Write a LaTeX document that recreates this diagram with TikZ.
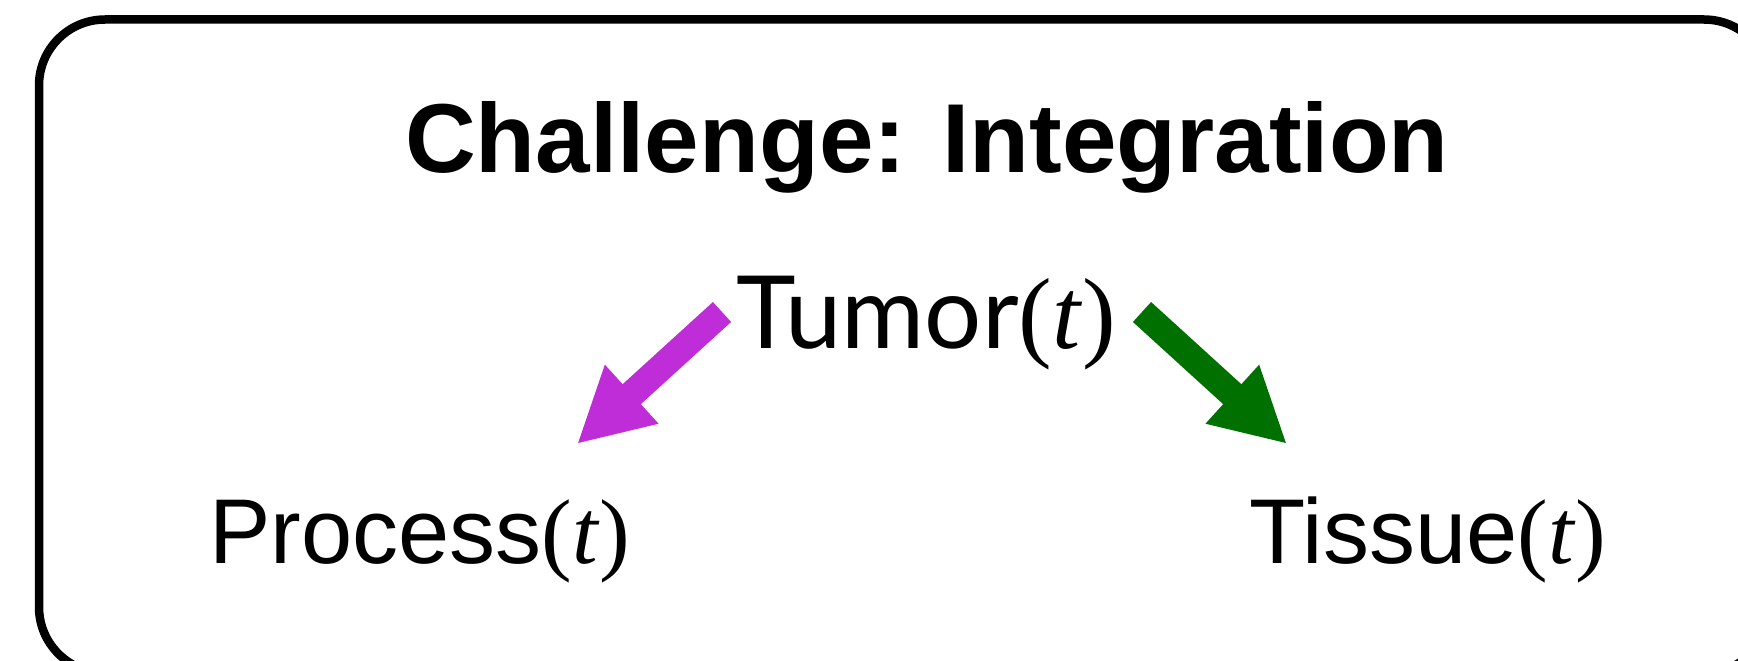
\documentclass[tikz,border=0pt]{standalone}
\usepackage{fontspec}
\setmainfont{Liberation Sans}
\newfontfamily\serifpart{Liberation Serif}
\newfontfamily\humanist{Lato}
\usetikzlibrary{arrows.meta}
\definecolor{procmag}{RGB}{190,45,215}
\definecolor{tissgreen}{RGB}{0,112,0}
\newcommand{\argt}{{\serifpart(\textit{t})}}
\tikzset{
  frame/.style={draw=black, line width=8.5pt, rounded corners=66pt},
  label/.style={anchor=base, inner sep=0pt, font=\fontsize{92}{100}\selectfont},
  biglabel/.style={anchor=base, inner sep=0pt, font=\fontsize{101}{110}\selectfont},
  title/.style={anchor=base, inner sep=0pt, font=\fontsize{98}{110}\selectfont\bfseries},
  fatarrow/.style={line width=27pt, -{Triangle[length=74pt,width=74pt]}}
}
\begin{document}
\begin{tikzpicture}[x=1pt, y=-1pt]
  \useasboundingbox (0,0) rectangle (1738,661);
  \clip (0,0) rectangle (1738,661);
  % outer rounded frame, running past the right and bottom edges
  \draw[frame] (39,19.5) rectangle (1770,673);
  % texts
  \node[title] (head) at (927,172) {Challenge: Integration};
  \node[biglabel] (tumor) at (926,348) {{\humanist Tumor}\argt};
  \node[label] (process) at (420,563) {Process\argt};
  \node[label] (tissue) at (1428,563) {Tissue\argt};
  % arrow ends
  \coordinate (pstart) at (722,312);
  \coordinate (pend) at (577,444);
  \coordinate (tstart) at (1142,312);
  \coordinate (tend) at (1287,444);
  \draw[fatarrow, procmag] (pstart) -- (pend);
  \draw[fatarrow, tissgreen] (tstart) -- (tend);
\end{tikzpicture}
\end{document}
